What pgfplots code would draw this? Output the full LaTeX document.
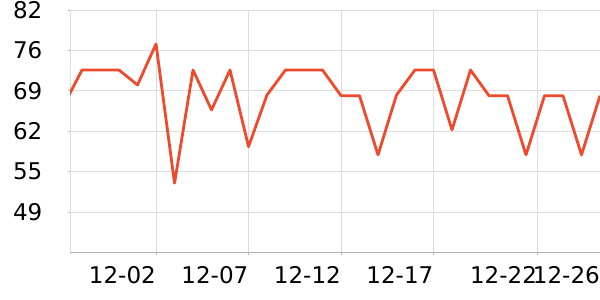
\documentclass[border=0pt]{standalone}
\usepackage{fontspec}
\setmainfont{DejaVu Sans}
\usepackage{pgfplots}
\pgfplotsset{compat=1.18}
\definecolor{lineC}{RGB}{238,74,44}
\definecolor{gridC}{RGB}{221,221,221}
\definecolor{axisC}{RGB}{180,180,180}
\begin{document}
\begin{tikzpicture}
\useasboundingbox (0,0) rectangle (600pt,300pt);
\begin{axis}[
  at={(70pt,47.5pt)}, anchor=south west,
  scale only axis, width=530pt, height=242.5pt,
  xmin=-4.65, xmax=24, ymin=42.4, ymax=82,
  axis lines=left, axis line style={-},
  x axis line style={draw=axisC},
  y axis line style={draw=gridC},
  grid=major, major grid style={draw=gridC, line width=0.8pt},
  xtick={0,5,10,15,20.6,24},
  xticklabels={12-02,12-07,12-12,12-17,12-22,12-26},
  ytick={49,55.6,62.2,68.8,75.4,82},
  yticklabels={49,55,62,69,76,82},
  tick align=outside, major tick length=2.5pt,
  tick style={draw=axisC, line width=0.8pt},
  /pgf/number format/assume math mode=true,
  ticklabel style={font=\fontsize{23}{27}\selectfont, inner sep=0pt},
  xticklabel style={anchor=north east, yshift=-11.5pt},
  yticklabel style={anchor=east, xshift=-25pt},
  clip=true,
]
\addplot[lineC, line width=2.8pt, line join=round] coordinates {
(-5,66.4) (-4,72.2) (-3,72.2) (-2,72.2) (-1,69.76) (0,76.45)
(1,53.72) (2,72.2) (3,65.68) (4,72.2) (5,59.69) (6,68.13)
(7,72.2) (8,72.2) (9,72.2) (10,68.01) (11,68.01) (12,58.34)
(13,68.13) (14,72.2) (15,72.2) (16,62.42) (17,72.2) (18,68.01)
(19,68.01) (20,58.34) (21,68.01) (22,68.01) (23,58.34) (24,68.01)
};
\end{axis}
\end{tikzpicture}
\end{document}
